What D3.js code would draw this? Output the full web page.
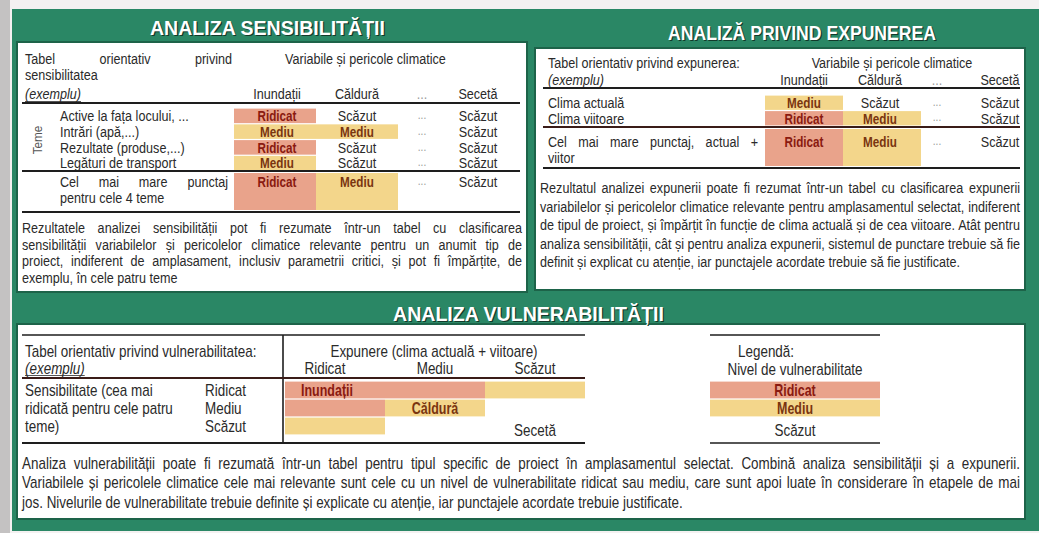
<!DOCTYPE html>
<html><head><meta charset="utf-8">
<script src="https://cdn.jsdelivr.net/npm/d3@7"></script>
<style>
html,body{margin:0;padding:0;background:#f4f1f1;}
svg{display:block;font-family:"Liberation Sans","Arial",sans-serif;}
</style></head><body>
<div id="chart"></div>
<script>
// ---------- DATA ----------
const titles = ["ANALIZA SENSIBILITĂȚII", "ANALIZĂ PRIVIND EXPUNEREA", "ANALIZA VULNERABILITĂȚII"];
const hazards = ["Inundații", "Căldură", "...", "Secetă"];
const levels = ["Ridicat", "Mediu", "Scăzut"];

const sensThemes = ["Active la fața locului, ...", "Intrări (apă,...)", "Rezultate (produse,...)", "Legături de transport"];
const sensValues = [
  ["Ridicat", "Scăzut", "...", "Scăzut"],
  ["Mediu", "Mediu", "...", "Scăzut"],
  ["Ridicat", "Scăzut", "...", "Scăzut"],
  ["Mediu", "Scăzut", "...", "Scăzut"]
];
const sensMax = ["Ridicat", "Mediu", "...", "Scăzut"];
const sensMaxLabel = ["Cel mai mare punctaj", "pentru cele 4 teme"];
const sensHeader = ["Tabel orientativ privind", "sensibilitatea", "(exemplu)", "Variabile și pericole climatice", "Teme"];
const sensText = [
  "Rezultatele analizei sensibilității pot fi rezumate într-un tabel cu clasificarea",
  "sensibilității variabilelor și pericolelor climatice relevante pentru un anumit tip de",
  "proiect, indiferent de amplasament, inclusiv parametrii critici, și pot fi împărțite, de",
  "exemplu, în cele patru teme"
];

const expRows = ["Clima actuală", "Clima viitoare"];
const expValues = [
  ["Mediu", "Scăzut", "...", "Scăzut"],
  ["Ridicat", "Mediu", "...", "Scăzut"]
];
const expMax = ["Ridicat", "Mediu", "...", "Scăzut"];
const expMaxLabel = ["Cel mai mare punctaj, actual +", "viitor"];
const expHeader = ["Tabel orientativ privind expunerea:", "(exemplu)", "Variabile și pericole climatice"];
const expText = [
  "Rezultatul analizei expunerii poate fi rezumat într-un tabel cu clasificarea expunerii",
  "variabilelor și pericolelor climatice relevante pentru amplasamentul selectat, indiferent",
  "de tipul de proiect, și împărțit în funcție de clima actuală și de cea viitoare. Atât pentru",
  "analiza sensibilității, cât și pentru analiza expunerii, sistemul de punctare trebuie să fie",
  "definit și explicat cu atenție, iar punctajele acordate trebuie să fie justificate."
];

const vulnHeader = ["Tabel orientativ privind vulnerabilitatea:", "(exemplu)", "Expunere (clima actuală + viitoare)"];
const vulnRowLabel = ["Sensibilitate (cea mai", "ridicată pentru cele patru", "teme)"];
// rows = sensitivity level, columns = exposure level
const vulnMatrix = [
  ["Ridicat", "Ridicat", "Mediu"],
  ["Ridicat", "Mediu", "Scăzut"],
  ["Mediu", "Scăzut", "Scăzut"]
];
const vulnHazards = [
  {name: "Inundații", sens: "Ridicat", exp: "Ridicat"},
  {name: "Căldură", sens: "Mediu", exp: "Mediu"},
  {name: "Secetă", sens: "Scăzut", exp: "Scăzut"}
];
const legendTitle = ["Legendă:", "Nivel de vulnerabilitate"];
const vulnText = [
  "Analiza vulnerabilității poate fi rezumată într-un tabel pentru tipul specific de proiect în amplasamentul selectat. Combină analiza sensibilității și a expunerii.",
  "Variabilele și pericolele climatice cele mai relevante sunt cele cu un nivel de vulnerabilitate ridicat sau mediu, care sunt apoi luate în considerare în etapele de mai",
  "jos. Nivelurile de vulnerabilitate trebuie definite și explicate cu atenție, iar punctajele acordate trebuie justificate."
];

// ---------- STYLE ----------
const W = 1039, H = 533;
const GREEN = "#2a8765", DARKGREEN = "#1d6349";
const TXT = "#2a2a2a";
const fillC = d3.scaleOrdinal().domain(levels).range(["#e9a38b", "#f3d68b", "none"]);
const textC = d3.scaleOrdinal().domain(levels).range(["#8a1a10", "#7a3510", TXT]);
const FS = 15, COND = 0.84;

const svg = d3.select("#chart").append("svg").attr("width", W).attr("height", H);

// background / frame
svg.append("rect").attr("x", 0).attr("y", 0).attr("width", W).attr("height", H).attr("fill", "#f4f1f1");
svg.append("rect").attr("x", 0).attr("y", 0).attr("width", 10).attr("height", H).attr("fill", "#c4c2c2");
svg.append("rect").attr("x", 12).attr("y", 9).attr("width", W - 12).attr("height", H - 11).attr("fill", GREEN);

function box(x0, y0, x1, y1) {
  svg.append("rect").attr("x", x0).attr("y", y0).attr("width", x1 - x0).attr("height", y1 - y0)
    .attr("fill", "#fff").attr("stroke", DARKGREEN).attr("stroke-width", 2);
}
box(17, 42, 527, 292);
box(535, 48, 1025, 290);
box(17, 324, 1025, 519);

function title(t, cx, y, len) {
  [[1.2, "#123a2b"], [0, "#ffffff"]].forEach(([o, c]) => {
    svg.append("text").attr("x", cx + o).attr("y", y + o).attr("text-anchor", "middle")
      .attr("font-size", 21).attr("font-weight", "bold").attr("fill", c)
      .attr("textLength", len).attr("lengthAdjust", "spacingAndGlyphs").text(t);
  });
}
title(titles[0], 267.5, 35, 235);
title(titles[1], 802, 40, 268);
title(titles[2], 528.5, 321, 271);

// condensed text: horizontal scale emulates a narrow typeface; justified lines use word spacing
function txt(t, x, y, opt = {}) {
  const c = opt.cond || COND;
  const e = svg.append("text").attr("transform", `translate(${x},${y}) scale(${c},1)`)
    .attr("dy", "0.35em")
    .attr("font-size", opt.fs || FS).attr("fill", opt.fill || TXT)
    .attr("text-anchor", opt.anchor || "start").text(t);
  if (opt.italic) e.attr("font-style", "italic");
  if (opt.bold) e.attr("font-weight", "bold");
  const w = e.node().getComputedTextLength();
  if (opt.len) {
    const n = (t.match(/ /g) || []).length;
    if (n > 0) e.style("word-spacing", ((opt.len / c - w) / n) + "px");
    return opt.len;
  }
  return w * c;
}
function hline(x0, x1, y, w = 2, c = "#1e1e1e") {
  svg.append("line").attr("x1", x0).attr("x2", x1).attr("y1", y).attr("y2", y)
    .attr("stroke", c).attr("stroke-width", w);
}
function underlined(t, x, y, opt) {
  const w = txt(t, x, y, opt);
  hline(x, x + w, y + 7.5, 0.8, TXT);
}
function cellText(v, cx, cy, fs) {
  if (v === "...") { txt("...", cx, cy - 1, {anchor: "middle", fill: "#9a9a9a", fs: 12}); return; }
  txt(v, cx, cy, {anchor: "middle", fill: textC(v), bold: v !== "Scăzut", fs: fs || FS, cond: v !== "Scăzut" ? 0.78 : COND});
}

// ---------- SENSITIVITY TABLE ----------
const sx = d3.scaleOrdinal().domain(hazards).range([[234, 316], [316, 398], [398, 446], [446, 510]]);
const sCenter = d3.scaleOrdinal().domain(hazards).range([277, 357, 422, 478]);
const sy = d3.scaleBand().domain(sensThemes).range([108, 171]);

txt(sensHeader[0], 25, 59, {len: 207});
txt(sensHeader[3], 285, 59);
txt(sensHeader[1], 25, 75);
underlined(sensHeader[2], 25, 94, {italic: true});
hazards.forEach(h => txt(h, sCenter(h), 94, {anchor: "middle", fill: h === "..." ? "#9a9a9a" : TXT}));
hline(22, 520, 103);

sensThemes.forEach((t, i) => {
  const cy = sy(t) + sy.bandwidth() / 2;
  txt(t, 60, cy);
  hazards.forEach((h, j) => {
    const v = sensValues[i][j];
    const [a, b] = sx(h);
    if (fillC(v) !== "none" && v !== "...")
      svg.append("rect").attr("x", a).attr("y", sy(t) + 0.6).attr("width", b - a)
        .attr("height", sy.bandwidth() - 1.2).attr("fill", fillC(v));
    cellText(v, sCenter(h), cy);
  });
});
svg.append("text").attr("transform", "translate(37,140) rotate(-90) scale(0.9,1)").attr("text-anchor", "middle")
  .attr("dy", "0.35em").attr("font-size", 13).attr("fill", "#555").text(sensHeader[4]);
hline(22, 520, 171);

hazards.forEach((h, j) => {
  const v = sensMax[j];
  const [a, b] = sx(h);
  if (v !== "..." && fillC(v) !== "none")
    svg.append("rect").attr("x", a).attr("y", 173).attr("width", b - a).attr("height", 37).attr("fill", fillC(v));
  cellText(v, sCenter(h), 182);
});
txt(sensMaxLabel[0], 60, 182, {len: 168});
txt(sensMaxLabel[1], 60, 198);
hline(22, 520, 212);

sensText.forEach((t, i) => txt(t, 22, 228 + i * 16.5, i < sensText.length - 1 ? {len: 500} : {}));

// ---------- EXPOSURE TABLE ----------
const ex = d3.scaleOrdinal().domain(hazards).range([[765, 843], [843, 921], [921, 960], [960, 1020]]);
const eCenter = d3.scaleOrdinal().domain(hazards).range([804, 880, 937, 1000]);
const ey = d3.scaleBand().domain(expRows).range([95, 126]);

txt(expHeader[0], 548, 63);
txt(expHeader[2], 892, 63, {anchor: "middle"});
underlined(expHeader[1], 548, 80, {italic: true});
hazards.forEach(h => txt(h, eCenter(h), 80, {anchor: "middle", fill: h === "..." ? "#9a9a9a" : TXT}));
hline(543, 1020, 88);

expRows.forEach((r, i) => {
  const cy = ey(r) + ey.bandwidth() / 2;
  txt(r, 548, cy);
  hazards.forEach((h, j) => {
    const v = expValues[i][j];
    const [a, b] = ex(h);
    if (v !== "..." && fillC(v) !== "none")
      svg.append("rect").attr("x", a).attr("y", ey(r) + 0.6).attr("width", b - a)
        .attr("height", ey.bandwidth() - 1.2).attr("fill", fillC(v));
    cellText(v, eCenter(h), cy);
  });
});
hline(543, 1020, 127, 2, "#3a1c18");

hazards.forEach((h, j) => {
  const v = expMax[j];
  const [a, b] = ex(h);
  if (v !== "..." && fillC(v) !== "none")
    svg.append("rect").attr("x", a).attr("y", 129).attr("width", b - a).attr("height", 37).attr("fill", fillC(v));
  cellText(v, eCenter(h), 142);
});
txt(expMaxLabel[0], 548, 142, {len: 210});
txt(expMaxLabel[1], 548, 158);
hline(543, 1020, 168);

expText.forEach((t, i) => txt(t, 540, 188 + i * 18.5, i < expText.length - 1 ? {len: 480} : {}));

// ---------- VULNERABILITY TABLE ----------
const VFS = 16;
const vx = d3.scaleBand().domain(levels).range([285, 585]);
const vy = d3.scaleBand().domain(levels).range([381, 435]);

hline(22, 585, 335, 1.6);
svg.append("line").attr("x1", 283).attr("x2", 283).attr("y1", 335).attr("y2", 443)
  .attr("stroke", "#1e1e1e").attr("stroke-width", 1.6);
txt(vulnHeader[0], 25, 351, {fs: VFS});
underlined(vulnHeader[1], 25, 368, {italic: true, fs: VFS});
txt(vulnHeader[2], 434, 351, {anchor: "middle", fs: VFS});
levels.forEach(l => txt(l, vx(l) + vx.bandwidth() / 2 - (l === "Ridicat" ? 10 : 0), 368, {anchor: "middle", fs: VFS}));
hline(22, 585, 378, 2, "#3a1c18");

levels.forEach((sl, i) => {
  const cy = vy(sl) + vy.bandwidth() / 2;
  txt(vulnRowLabel[i], 25, cy, {fs: VFS});
  txt(sl, 205, cy, {fs: VFS});
  levels.forEach((el, j) => {
    const v = vulnMatrix[i][j];
    if (fillC(v) !== "none")
      svg.append("rect").attr("x", vx(el)).attr("y", vy(sl) + 0.6).attr("width", vx.bandwidth())
        .attr("height", vy.bandwidth() - 1.2).attr("fill", fillC(v));
  });
});
vulnHazards.forEach(d => {
  const v = vulnMatrix[levels.indexOf(d.sens)][levels.indexOf(d.exp)];
  const cy = vy(d.sens) + vy.bandwidth() / 2;
  const cx = vx(d.exp) + vx.bandwidth() / 2 + (d.exp === "Ridicat" ? -8 : 0);
  txt(d.name, cx, cy + (d.sens === "Scăzut" ? 4 : 0), {anchor: "middle", fill: textC(v), bold: v !== "Scăzut", fs: VFS, cond: v !== "Scăzut" ? 0.78 : COND});
});
hline(22, 585, 443, 2.2);

// legend
const lx0 = 710, lx1 = 880;
hline(lx0, lx1, 335, 1.6);
txt(legendTitle[0], 738, 351, {fs: VFS});
txt(legendTitle[1], (lx0 + lx1) / 2, 369, {anchor: "middle", fs: VFS});
levels.forEach(l => {
  if (fillC(l) !== "none")
    svg.append("rect").attr("x", lx0).attr("y", vy(l) + 0.6).attr("width", lx1 - lx0)
      .attr("height", vy.bandwidth() - 1.2).attr("fill", fillC(l));
  txt(l, (lx0 + lx1) / 2, vy(l) + vy.bandwidth() / 2 + (l === "Scăzut" ? 4 : 0),
    {anchor: "middle", fill: textC(l), bold: l !== "Scăzut", fs: VFS, cond: l !== "Scăzut" ? 0.78 : COND});
});
hline(lx0, lx1, 443, 1.6);

vulnText.forEach((t, i) => txt(t, 22, 463 + i * 19.5, i < vulnText.length - 1 ? {len: 998, fs: VFS} : {fs: VFS}));
</script>
</body></html>
